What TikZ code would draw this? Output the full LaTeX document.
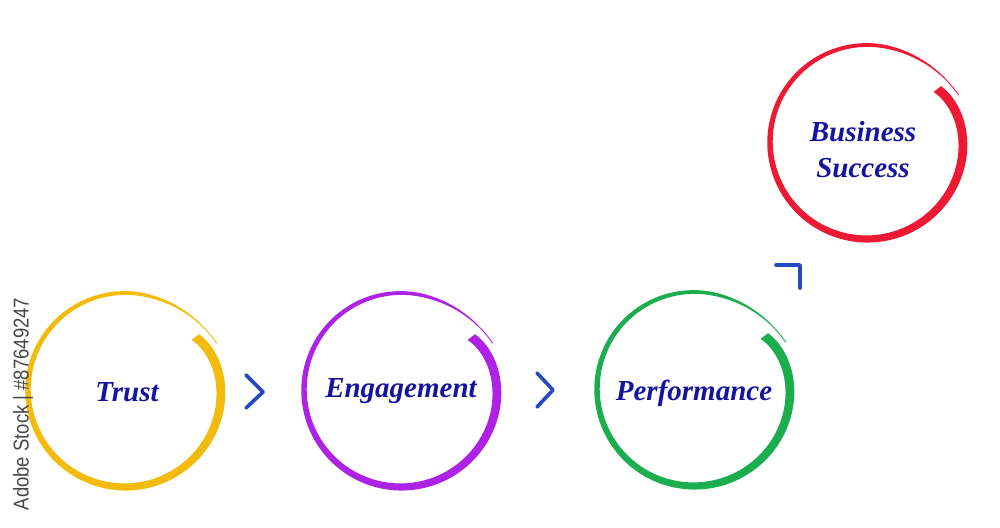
\documentclass[tikz,border=0pt]{standalone}
\usepackage{fontspec}
\setmainfont{Liberation Serif}
\newfontfamily\wmfont{Liberation Sans}
\definecolor{cYellow}{HTML}{F2BB0E}
\definecolor{cPurple}{HTML}{AE22E6}
\definecolor{cGreen}{HTML}{1CAE4E}
\definecolor{cRed}{HTML}{EE1A34}
\definecolor{cText}{HTML}{16149E}
\definecolor{cChev}{HTML}{2348C2}
\newcommand\brushring[3]{%
  \fill[#3] plot[domain=0:370,samples=160,smooth]
      ({#1+(rr(\x)+ww(\x)/2)*cos(37-\x)},{#2+(rr(\x)+ww(\x)/2)*sin(37-\x)})
    -- plot[domain=370:0,samples=160,smooth]
      ({#1+(rr(\x)-ww(\x)/2)*cos(37-\x)},{#2+(rr(\x)-ww(\x)/2)*sin(37-\x)})
    -- cycle;}
\begin{document}
\begin{tikzpicture}[x=1pt,y=1pt,
  declare function={
    rr(\a)=97-9*exp(-\a/18)+6*((max(\a,320)-320)/50)^2;
    ww(\a)=max(0.9,9.5-6*\a/320-2.4*(max(\a,320)-320)/50);
  },
  lbl/.style={font=\fontsize{29}{36}\selectfont\bfseries\itshape, text=cText, align=center, inner sep=0pt},
  chev/.style={draw=cChev, line width=3.6pt, line cap=round, line join=round}]
\useasboundingbox (0,0) rectangle (1000,527);
\fill[white] (0,0) rectangle (1000,527);
% rings
\brushring{125}{137}{cYellow}
\brushring{401}{137}{cPurple}
\brushring{694}{138}{cGreen}
\brushring{867}{385}{cRed}
% labels
\node[lbl] (trust) at (127,135) {Trust};
\node[lbl] (engage) at (401,136) {Engagement};
\node[lbl] (perf) at (694,134) {Performance};
\node[lbl] (bus) at (863,377) {Business\\Success};
% chevrons
\draw[chev] (246,152) -- (263,135) -- (246,119);
\draw[chev] (537,154) -- (553,137) -- (537,120);
\draw[chev] (776,262) -- (800,262) -- (800,239);
% side text
\node[font=\wmfont\fontsize{21.5}{24}\selectfont, text=black!72, rotate=90, inner sep=0pt] (wm) at (23,123) {\scalebox{0.86}[1]{Adobe Stock | \#87649247}};
\end{tikzpicture}
\end{document}
